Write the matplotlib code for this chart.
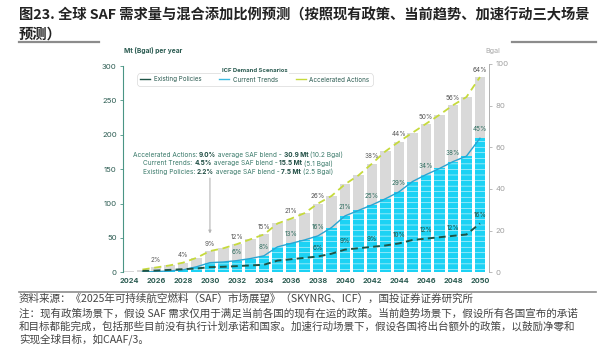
import matplotlib
matplotlib.use("Agg")
import matplotlib.pyplot as plt
from matplotlib.lines import Line2D

# ---------------- data ----------------
years = list(range(2024, 2051))
accelerated = [1.5, 4, 7, 10, 14, 21, 30.9, 35, 41, 48, 55, 71, 78, 86, 100, 111,
               128, 141, 158, 176, 190, 203, 216, 229, 243, 255, 284]
current = [0, 0.5, 1, 2, 3.5, 8, 14, 15, 17, 20, 24, 37, 42, 47, 53, 65,
           82, 90, 98, 107, 117, 132, 142, 151, 161, 169, 195]
existing = [0, 2, 2.5, 3.5, 4.5, 5.5, 7.5, 8, 9, 10, 11, 17, 19, 21, 23, 27,
            33, 35, 37, 39, 42, 47, 49, 51, 53, 55, 71]

acc_pct_years = [2026, 2028, 2030, 2032, 2034, 2036, 2038, 2042, 2044, 2046, 2048, 2050]
acc_pct = ["2%", "4%", "9%", "12%", "15%", "21%", "26%", "38%", "44%", "50%", "56%", "64%"]
cur_pct_years = [2032, 2034, 2036, 2038, 2040, 2042, 2044, 2046, 2048, 2050]
cur_pct = ["6%", "8%", "13%", "16%", "21%", "25%", "29%", "34%", "38%", "45%"]
exi_pct_years = [2038, 2040, 2042, 2044, 2046, 2048, 2050]
exi_pct = ["6%", "9%", "9%", "10%", "12%", "12%", "16%"]

tick_years = list(range(2024, 2051, 2))
left_ticks = [0, 50, 100, 150, 200, 250, 300]
right_ticks = [0, 20, 40, 60, 80, 100]
MT_PER_BGAL = 3.03

series_names = ["Existing Policies", "Current Trends", "Accelerated Actions"]
ann_lines = [
    [("Accelerated Actions: ", "normal"), ("9.0%", "bold"), (" average SAF blend - ", "normal"),
     ("30.9 Mt", "bold"), (" (10.2 Bgal)", "normal")],
    [("Current Trends: ", "normal"), ("4.5%", "bold"), (" average SAF blend - ", "normal"),
     ("15.5 Mt", "bold"), (" (5.1 Bgal)", "normal")],
    [("Existing Policies: ", "normal"), ("2.2%", "bold"), (" average SAF blend - ", "normal"),
     ("7.5 Mt", "bold"), (" (2.5 Bgal)", "normal")],
]

title1 = "图23. 全球 SAF 需求量与混合添加比例预测（按照现有政策、当前趋势、加速行动三大场景"
title2 = "预测）"
footer = [
    "资料来源：《2025年可持续航空燃料（SAF）市场展望》（SKYNRG、ICF），国投证券证券研究所",
    "注：现有政策场景下，假设 SAF 需求仅用于满足当前各国的现有在运的政策。当前趋势场景下，假设所有各国宣布的承诺",
    "和目标都能完成，包括那些目前没有执行计划承诺和国家。加速行动场景下，假设各国将出台额外的政策，以鼓励净零和",
    "实现全球目标，如CAAF/3。",
]

# ---------------- style ----------------
plt.rcParams["font.family"] = ["Inter", "DejaVu Sans"]
plt.rcParams["hatch.linewidth"] = 0.35
CJK = ["Noto Sans CJK SC", "DejaVu Sans"]
TEAL = "#2c5c52"
TEAL_SPINE = "#4a9585"
ANN = "#3a7a6a"
GRAY_BAR = "#d9d9d9"
CYAN = "#1cd2f4"
BLUE_LINE = "#2aa5d2"
YG = "#c6da3c"
DARK = "#1f5446"

W, H = 606, 347
fig = plt.figure(figsize=(W / 100, H / 100), dpi=100)
fig.patch.set_facecolor("white")


def fx(px):
    return px / W


def fy(py):
    return 1 - py / H


y0, ytop = 272.3, 64.0
ax = fig.add_axes([fx(123), fy(y0), fx(489) - fx(123), (y0 - ytop) / H])
ax.set_xlim(2023.56, 2050.67)
ax.set_ylim(0, 100 * MT_PER_BGAL)

ax.bar(years, accelerated, width=0.8, color=GRAY_BAR, linewidth=0, zorder=1)
ax.bar(years, current, width=0.8, color=CYAN, edgecolor="white", hatch="---",
       linewidth=0, zorder=2)

ax.plot(years[1:], accelerated[1:], color=YG, lw=1.3, ls=(0, (4, 2.6)), zorder=4)
ax.plot(years[1:], current[1:], color=BLUE_LINE, lw=1.0, zorder=4)
ax.plot(years[1:], existing[1:], color=DARK, lw=1.4, ls=(0, (3.5, 2.2)), zorder=5)

for yr, lab in zip(acc_pct_years, acc_pct):
    v = accelerated[years.index(yr)]
    ax.annotate(lab, (yr, v), xytext=(0, 5.2), textcoords="offset points",
                ha="center", va="center", fontsize=4.6, color="#555555", zorder=6)
for yr, lab in zip(cur_pct_years, cur_pct):
    v = current[years.index(yr)]
    ax.annotate(lab, (yr, v), xytext=(0, 6.5), textcoords="offset points",
                ha="center", va="center", fontsize=4.6, color="#2f6e60", zorder=6)
for yr, lab in zip(exi_pct_years, exi_pct):
    v = existing[years.index(yr)]
    ax.annotate(lab, (yr, v), xytext=(0, 6.0), textcoords="offset points",
                ha="center", va="center", fontsize=4.6, color="#1d4f44", zorder=6)

# arrow to 2030
i30 = years.index(2030)
ax.annotate("", xy=(2030, accelerated[i30] + 25.5), xytext=(2030, 137),
            arrowprops=dict(arrowstyle="-|>", color="#b5b5b5", lw=0.8,
                            mutation_scale=4, shrinkA=0, shrinkB=0), zorder=6)

for s in ["top", "right", "bottom"]:
    ax.spines[s].set_visible(False)
ax.spines["left"].set_color(TEAL_SPINE)
ax.spines["left"].set_linewidth(0.8)
ax.spines["left"].set_bounds(0, 300)
ax.set_yticks(left_ticks)
ax.tick_params(axis="y", colors=TEAL_SPINE, length=2.5, width=0.6, labelsize=5.6,
               labelcolor=TEAL, pad=2)
ax.set_xticks(tick_years)
ax.set_xticklabels([str(t) for t in tick_years], fontsize=5.3, fontweight="bold",
                   color=TEAL)
ax.tick_params(axis="x", length=0, pad=4)

ax2 = ax.twinx()
ax2.set_ylim(0, 100)
for s in ["top", "left", "bottom"]:
    ax2.spines[s].set_visible(False)
ax2.spines["right"].set_color("#b0b0b0")
ax2.spines["right"].set_linewidth(0.7)
ax2.spines["right"].set_bounds(0, 100)
ax2.set_yticks(right_ticks)
ax2.tick_params(axis="y", colors="#b0b0b0", length=2.5, width=0.6, labelsize=5.6,
                labelcolor="#a0a0a0", pad=2)

fig.text(fx(124), fy(51), "Mt (Bgal) per year", fontsize=4.8, fontweight="bold",
         color=TEAL, ha="left", va="center")
fig.text(fx(485), fy(51), "Bgal", fontsize=5.2, color="#a8a8a8", ha="left", va="center")

# legend
handles = [Line2D([], [], color=DARK, lw=1.0),
           Line2D([], [], color="#39b9e0", lw=1.0),
           Line2D([], [], color=YG, lw=1.0)]
leg = ax.legend(handles, series_names, ncol=3, loc="center",
                bbox_to_anchor=(fx(255), fy(79.5)), bbox_transform=fig.transFigure,
                fontsize=4.5, frameon=True, fancybox=True, handlelength=1.6,
                handletextpad=0.6, columnspacing=2.8, borderpad=0.6,
                labelcolor=TEAL)
leg.get_frame().set_edgecolor("#d0d0d0")
leg.get_frame().set_linewidth(0.5)
leg.get_frame().set_boxstyle("round,pad=0,rounding_size=0.6")
fig.text(fx(255), fy(70.5), "ICF Demand Scenarios", fontsize=4.3, fontweight="bold",
         color=TEAL, ha="center", va="center",
         bbox=dict(facecolor="white", edgecolor="none", pad=1.0), zorder=10)

# annotation block with mixed weights
fig.canvas.draw()
renderer = fig.canvas.get_renderer()
for segs, ypx in zip(ann_lines, [155, 163.3, 171.7]):
    texts = []
    for txt, wt in segs:
        col = "#1f4d43" if wt == "bold" else ANN
        t = fig.text(0, fy(ypx), txt, fontsize=4.7, fontweight=wt, color=col,
                     ha="left", va="center")
        texts.append(t)
    widths = [t.get_window_extent(renderer).width for t in texts]
    total = sum(widths)
    x = 238 - total / 2
    for t, w in zip(texts, widths):
        t.set_x(fx(x))
        x += w

# title
fig.text(fx(19), fy(15), title1, fontsize=10.3, fontweight="bold", color="#222222",
         family=CJK, ha="left", va="center")
fig.text(fx(19), fy(35), title2, fontsize=10.3, fontweight="bold", color="#222222",
         family=CJK, ha="left", va="center")
for xa, xb in [(19, 99), (512, 596)]:
    fig.add_artist(Line2D([fx(xa), fx(xb)], [fy(42), fy(42)], color="#8c8c8c", lw=1.6))

# footer
fig.add_artist(Line2D([fx(19), fx(596)], [fy(292), fy(292)], color="#8c8c8c", lw=1.2))
for txt, ypx in zip(footer, [299, 313, 326, 339]):
    fig.text(fx(19), fy(ypx), txt, fontsize=7.6, color="#444444", family=CJK,
             ha="left", va="center")

fig.savefig("out.png", dpi=100, facecolor="white")
